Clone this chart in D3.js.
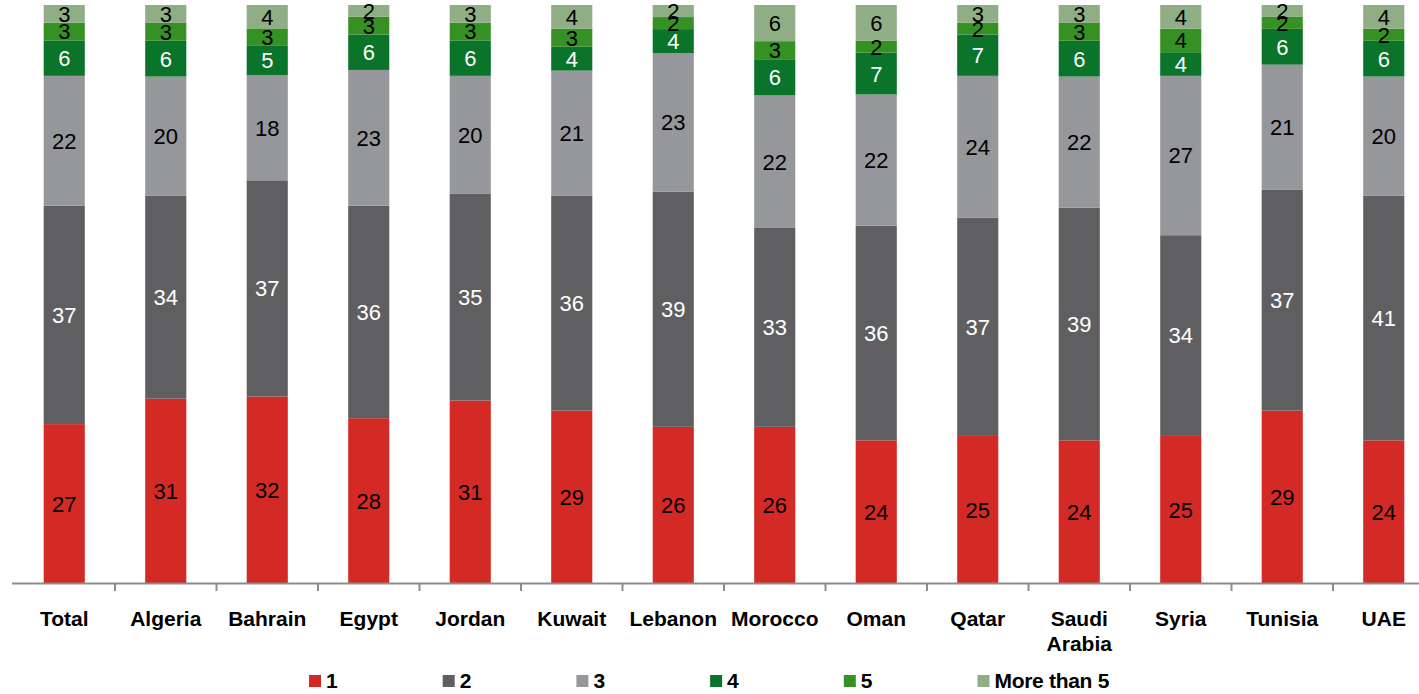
<!DOCTYPE html>
<html>
<head>
<meta charset="utf-8">
<script src="https://cdn.jsdelivr.net/npm/d3@7"></script>
<style>
  html, body { margin: 0; padding: 0; background: #fff; }
  svg { display: block; font-family: "Liberation Sans", Arial, sans-serif; }
</style>
</head>
<body>
<svg id="chart" width="1419" height="694"></svg>
<script>
// Countries along the x axis
const categories = ["Total", "Algeria", "Bahrain", "Egypt", "Jordan", "Kuwait", "Lebanon",
  "Morocco", "Oman", "Qatar", "Saudi Arabia", "Syria", "Tunisia", "UAE"];

// Share of respondents (%) per answer, one array per series
const seriesNames = ["1", "2", "3", "4", "5", "More than 5"];
const s1 = [27, 31, 32, 28, 31, 29, 26, 26, 24, 25, 24, 25, 29, 24];
const s2 = [37, 34, 37, 36, 35, 36, 39, 33, 36, 37, 39, 34, 37, 41];
const s3 = [22, 20, 18, 23, 20, 21, 23, 22, 22, 24, 22, 27, 21, 20];
const s4 = [6, 6, 5, 6, 6, 4, 4, 6, 7, 7, 6, 4, 6, 6];
const s5 = [3, 3, 3, 3, 3, 3, 2, 3, 2, 2, 3, 4, 2, 2];
const s6 = [3, 3, 4, 2, 3, 4, 2, 6, 6, 3, 3, 4, 2, 4];

const colors = ["#d42a25", "#5f5f61", "#96979a", "#0a742a", "#369125", "#90ae85"];
const labelColors = ["#000", "#fff", "#000", "#fff", "#000", "#000"];

const seriesValues = [s1, s2, s3, s4, s5, s6];
const rows = categories.map((c, i) => {
  const r = { category: c };
  seriesNames.forEach((k, j) => { r[k] = seriesValues[j][i]; });
  return r;
});

const svg = d3.select("#chart");

const x = d3.scaleBand()
  .domain(categories)
  .range([13.5, 1434.5])
  .paddingInner(0.595)
  .paddingOuter(0.2975);

const y = d3.scaleLinear().domain([0, 1]).range([583.5, 5]);

const stack = d3.stack().keys(seriesNames).offset(d3.stackOffsetExpand);
const layers = stack(rows);

// Stacked bars (each column normalised to 100%)
const layerG = svg.append("g").selectAll("g")
  .data(layers)
  .join("g")
  .attr("fill", (d, i) => colors[i]);

layerG.selectAll("rect")
  .data(d => d)
  .join("rect")
  .attr("x", d => x(d.data.category))
  .attr("width", x.bandwidth())
  .attr("y", d => y(d[1]))
  .attr("height", d => y(d[0]) - y(d[1]));

// Value labels inside the segments
const labelG = svg.append("g")
  .attr("text-anchor", "middle")
  .attr("font-size", 22);

layers.forEach((layer, i) => {
  labelG.selectAll(null)
    .data(layer)
    .join("text")
    .attr("x", d => x(d.data.category) + x.bandwidth() / 2)
    .attr("y", d => (y(d[0]) + y(d[1])) / 2)
    .attr("dy", "0.36em")
    .attr("fill", labelColors[i])
    .text(d => d.data[layer.key]);
});

// Category axis
const axisG = svg.append("g");
axisG.append("line")
  .attr("x1", 12).attr("x2", 1419)
  .attr("y1", 583.5).attr("y2", 583.5)
  .attr("stroke", "#8c8c8c").attr("stroke-width", 2);

axisG.selectAll("line.tick")
  .data(categories.slice(1))
  .join("line")
  .attr("class", "tick")
  .attr("x1", d => x(d) - x.step() * x.paddingInner() / 2)
  .attr("x2", d => x(d) - x.step() * x.paddingInner() / 2)
  .attr("y1", 583.5).attr("y2", 591)
  .attr("stroke", "#8c8c8c").attr("stroke-width", 2);

const catLabels = axisG.selectAll("text.cat")
  .data(categories)
  .join("text")
  .attr("class", "cat")
  .attr("text-anchor", "middle")
  .attr("font-size", 21)
  .attr("font-weight", "bold")
  .attr("fill", "#000")
  .attr("x", d => x(d) + x.bandwidth() / 2)
  .attr("y", 626);

// Wrap labels wider than one band onto extra lines
catLabels.each(function (d) {
  const t = d3.select(this);
  const cx = x(d) + x.bandwidth() / 2;
  const words = d.split(" ");
  let line = [];
  let tspan = t.append("tspan").attr("x", cx).attr("dy", 0);
  words.forEach(w => {
    line.push(w);
    tspan.text(line.join(" "));
    if (tspan.node().getComputedTextLength() > x.step() - 6 && line.length > 1) {
      line.pop();
      tspan.text(line.join(" "));
      line = [w];
      tspan = t.append("tspan").attr("x", cx).attr("dy", 25).text(w);
    }
  });
});

// Legend
const legend = svg.append("g");
const legendItems = legend.selectAll("g")
  .data(seriesNames)
  .join("g")
  .attr("transform", (d, i) => `translate(${309 + i * 133.7},688)`);

legendItems.append("rect")
  .attr("x", 0).attr("y", -13)
  .attr("width", 12).attr("height", 12)
  .attr("fill", (d, i) => colors[i]);

legendItems.append("text")
  .attr("x", 17)
  .attr("y", 0)
  .attr("font-size", 21)
  .attr("font-weight", "bold")
  .attr("letter-spacing", "-0.3")
  .attr("fill", "#000")
  .text(d => d);
</script>
</body>
</html>
